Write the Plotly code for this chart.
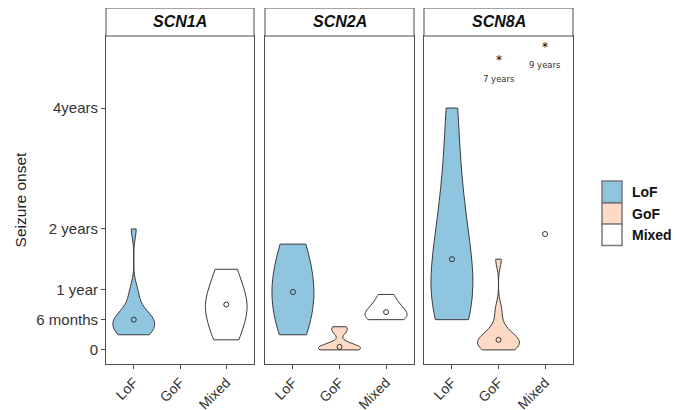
import numpy as np
import plotly.graph_objects as go

# ---------------- data (seizure onset, months) ----------------
genes = ["SCN1A", "SCN2A", "SCN8A"]
categories = ["LoF", "GoF", "Mixed"]

scn1a_lof = [3, 3, 3, 4, 4, 5, 6, 6, 6, 6, 7, 8, 10, 12, 24]
scn1a_gof = []
scn1a_mixed = [2, 6, 9, 11, 16]

scn2a_lof = [3, 4, 6, 8, 9, 11, 12, 14, 16, 18, 20, 21]
scn2a_gof = [0, 0, 0.3, 0.6, 1, 3.6, 4.6]
scn2a_mixed = [6, 6.3, 7, 8, 9, 11]

scn8a_lof = [6, 8, 10, 14, 18, 22, 28, 36, 48]
scn8a_gof = [0, 0, 0.5, 1, 1.5, 2, 2, 2.5, 3, 5, 8, 18]
scn8a_mixed = [23]

data = {
    "SCN1A": {"LoF": scn1a_lof, "GoF": scn1a_gof, "Mixed": scn1a_mixed},
    "SCN2A": {"LoF": scn2a_lof, "GoF": scn2a_gof, "Mixed": scn2a_mixed},
    "SCN8A": {"LoF": scn8a_lof, "GoF": scn8a_gof, "Mixed": scn8a_mixed},
}

bandwidths = {
    ("SCN1A", "LoF"): 1.8, ("SCN1A", "Mixed"): 3.5,
    ("SCN2A", "LoF"): 6.0, ("SCN2A", "GoF"): 0.8, ("SCN2A", "Mixed"): 1.3,
    ("SCN8A", "LoF"): 8.0, ("SCN8A", "GoF"): 1.6,
}

# off-scale outliers shown as labelled asterisks (SCN8A)
outlier_gene = "SCN8A"
outlier_cats = ["GoF", "Mixed"]
outlier_labels = ["7 years", "9 years"]
outlier_star_y = [57.5, 60.2]
outlier_text_y = [53.8, 56.6]

y_tickvals = [0, 6, 12, 24, 48]
y_ticktext = ["0", "6 months", "1 year", "2 years", "4years"]

# ---------------- style ----------------
fills = {"LoF": "#8FC5DF", "GoF": "#FDDAC6", "Mixed": "#FFFFFF"}
edge = "#3a3a3a"
font_family = "Liberation Sans, Arial, sans-serif"

# page body has an 8px margin: figure is placed at (8, 8)
OX, OY = 8, 8
W, H = 672, 402


def fx(px):
    return (px - OX) / W


def fy(py):
    return 1 - (py - OY) / H


panel_px = [(106, 254), (265, 414), (424, 573)]
plot_top, plot_bot = 36, 364
strip_top = 7.6

y0 = fy(plot_bot)
y1 = fy(plot_top)
ys = min(fy(strip_top), 1.0)

fig = go.Figure()

for i, gene in enumerate(genes):
    suffix = "" if i == 0 else str(i + 1)
    xa, ya = "x" + suffix, "y" + suffix
    for cat in categories:
        vals = data[gene][cat]
        if len(vals) >= 2:
            fig.add_trace(go.Violin(
                x=[cat] * len(vals), y=vals, xaxis=xa, yaxis=ya,
                spanmode="hard", points=False,
                box_visible=False, meanline_visible=False,
                bandwidth=bandwidths[(gene, cat)],
                width=0.9, scalemode="width",
                fillcolor=fills[cat], opacity=1,
                line=dict(color=edge, width=1),
                hoverinfo="skip", showlegend=False,
            ))
        if len(vals) >= 1:
            fig.add_trace(go.Scatter(
                x=[cat], y=[float(np.median(vals))], xaxis=xa, yaxis=ya,
                mode="markers",
                marker=dict(symbol="circle-open", size=5,
                            color="#333333", line=dict(width=1)),
                hoverinfo="skip", showlegend=False,
            ))

# outlier annotations
g_idx = genes.index(outlier_gene)
sfx = "" if g_idx == 0 else str(g_idx + 1)
for cat, lab, sy, ty in zip(outlier_cats, outlier_labels, outlier_star_y, outlier_text_y):
    fig.add_annotation(x=cat, y=sy, xref="x" + sfx, yref="y" + sfx, text="*",
                       showarrow=False, font=dict(size=12, color="#000000", family="DejaVu Sans"))
    fig.add_annotation(x=cat, y=ty, xref="x" + sfx, yref="y" + sfx, text=lab,
                       showarrow=False, font=dict(size=8.5, color="#333", family="DejaVu Sans"))

layout = dict(
    template="none",
    width=W, height=H, margin=dict(l=0, r=0, t=0, b=0, autoexpand=False),
    paper_bgcolor="white", plot_bgcolor="white",
    violinmode="overlay", showlegend=False,
    font=dict(family=font_family, color="#333333"),
)

for i, (xl, xr) in enumerate(panel_px):
    suffix = "" if i == 0 else str(i + 1)
    layout["xaxis" + suffix] = dict(
        domain=[fx(xl), fx(xr)], anchor="y" + suffix, automargin=False,
        type="category", categoryorder="array", categoryarray=categories,
        range=[-0.6, 2.6], showgrid=False, zeroline=False,
        showline=True, linecolor="#4d4d4d", linewidth=1, mirror=True,
        ticks="outside", ticklen=4, tickcolor="#4d4d4d",
        tickangle=-45, tickfont=dict(size=14, color="#333333"),
    )
    layout["yaxis" + suffix] = dict(
        domain=[y0, y1], anchor="x" + suffix, automargin=False,
        range=[-2.8, 62.3], showgrid=False, zeroline=False,
        showline=True, linecolor="#4d4d4d", linewidth=1, mirror=True,
        tickvals=y_tickvals, ticktext=y_ticktext,
        ticks="outside" if i == 0 else "", ticklen=4, tickcolor="#4d4d4d",
        showticklabels=(i == 0), tickfont=dict(size=15, color="#333333"),
        title=dict(text="Seizure onset", standoff=5,
                   font=dict(size=15.5, color="#222")) if i == 0 else None,
    )
    if i > 0:
        layout["yaxis" + suffix]["matches"] = "y"

fig.update_layout(**layout)

# facet strips
for i, ((xl, xr), gene) in enumerate(zip(panel_px, genes)):
    fig.add_shape(type="rect", xref="paper", yref="paper",
                  x0=fx(xl), x1=fx(xr), y0=y1, y1=ys,
                  fillcolor="white", line=dict(color="#4d4d4d", width=1))
    fig.add_annotation(xref="paper", yref="paper", x=(fx(xl) + fx(xr)) / 2, y=(y1 + ys) / 2,
                       xanchor="center", yanchor="middle",
                       text="<b><i>%s</i></b>" % gene, showarrow=False,
                       font=dict(size=16, color="#111"))

# legend (drawn manually)
leg_x0, leg_x1 = 602, 622
leg_tops = [181, 203, 224]
leg_h = 21.5
for cat, top in zip(categories, leg_tops):
    fig.add_shape(type="rect", xref="paper", yref="paper",
                  x0=fx(leg_x0), x1=fx(leg_x1),
                  y0=fy(top + leg_h), y1=fy(top),
                  fillcolor=fills[cat], line=dict(color="#7a7a7a", width=1.5))
    fig.add_annotation(xref="paper", yref="paper", x=fx(631), y=fy(top + leg_h / 2),
                       xanchor="left", yanchor="middle", text="<b>%s</b>" % cat, showarrow=False,
                       borderpad=0, font=dict(size=14, color="#111"))

fig.write_html("out.html")
